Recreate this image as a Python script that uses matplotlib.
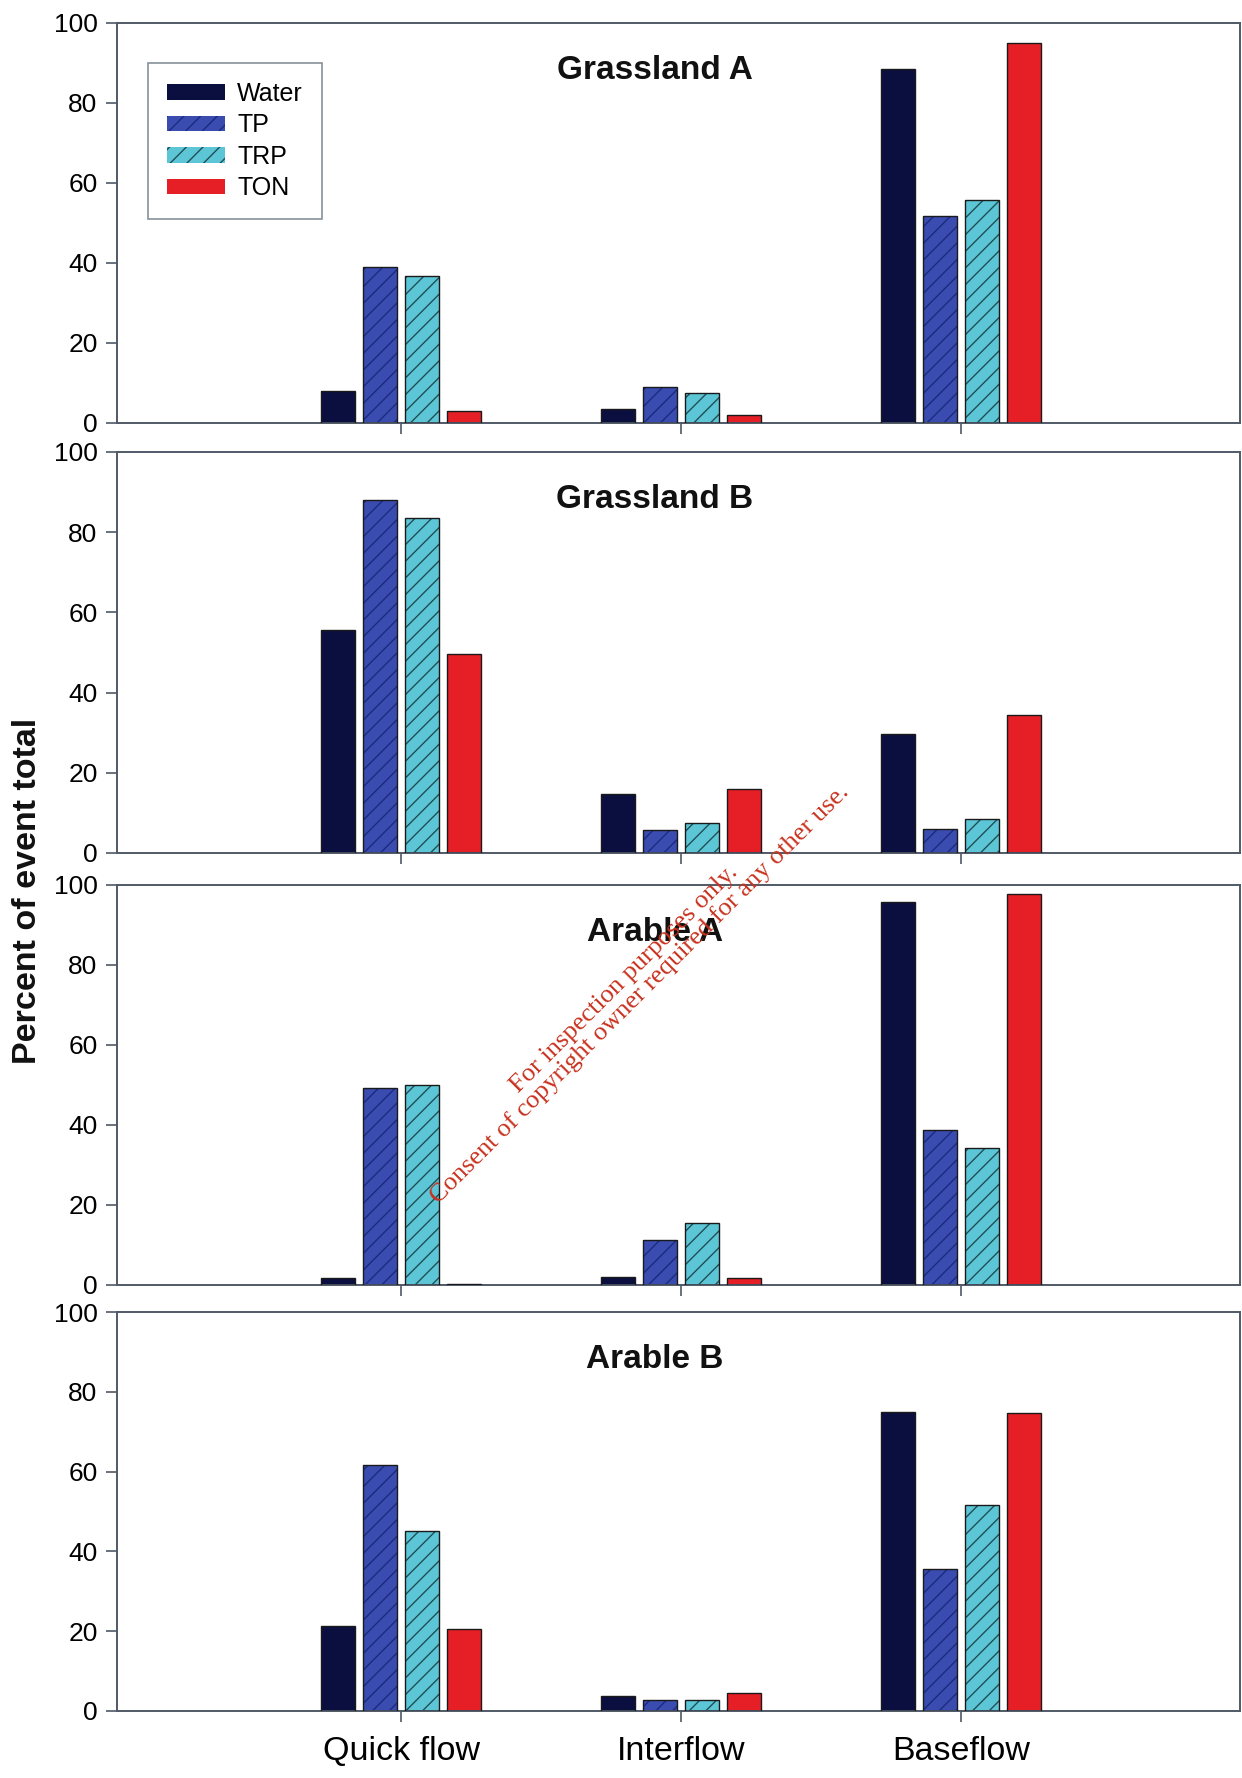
import numpy as np
import matplotlib
matplotlib.use("Agg")
import matplotlib.pyplot as plt

plt.rcParams['font.family'] = ['Liberation Sans', 'DejaVu Sans']
plt.rcParams['hatch.linewidth'] = 1.0

# ---- data ----
categories = ["Quick flow", "Interflow", "Baseflow"]
series = ["Water", "TP", "TRP", "TON"]
panels = ["Grassland A", "Grassland B", "Arable A", "Arable B"]

# values per panel, order: Quick flow, Interflow, Baseflow
grass_a_water = [8, 3.5, 88.4]
grass_a_tp = [39, 9, 51.8]
grass_a_trp = [36.8, 7.6, 55.8]
grass_a_ton = [3, 2, 94.9]

grass_b_water = [55.5, 14.7, 29.7]
grass_b_tp = [88.1, 5.7, 5.9]
grass_b_trp = [83.6, 7.6, 8.5]
grass_b_ton = [49.6, 15.9, 34.3]

arable_a_water = [1.7, 2, 95.8]
arable_a_tp = [49.3, 11.3, 38.8]
arable_a_trp = [49.9, 15.6, 34.3]
arable_a_ton = [0.3, 1.7, 97.7]

arable_b_water = [21.3, 3.7, 75]
arable_b_tp = [61.6, 2.8, 35.5]
arable_b_trp = [45.2, 2.8, 51.7]
arable_b_ton = [20.5, 4.5, 74.7]

panel_data = [
    [grass_a_water, grass_a_tp, grass_a_trp, grass_a_ton],
    [grass_b_water, grass_b_tp, grass_b_trp, grass_b_ton],
    [arable_a_water, arable_a_tp, arable_a_trp, arable_a_ton],
    [arable_b_water, arable_b_tp, arable_b_trp, arable_b_ton],
]

# ---- styles ----
fills = ['#0b0f3f', '#3a4cb0', '#5cc6d6', '#e61e26']
hatches = [None, '//', '//', None]
hatch_cols = ['#0b0f3f', '#1c2a80', '#1f4f55', '#e61e26']
spine_col = '#4f5a66'

W, H = 1242, 1778
fig = plt.figure(figsize=(W / 100, H / 100), dpi=100)

# axes boxes in pixels (top, bottom)
boxes = [(23, 423), (452, 853), (885, 1285), (1312, 1711)]
left_px, right_px = 117, 1240

x = np.arange(1, len(categories) + 1)
offsets = [-0.225, -0.075, 0.075, 0.225]
bw = 0.122

for i, (top, bot) in enumerate(boxes):
    ax = fig.add_axes([left_px / W, 1 - bot / H, (right_px - left_px) / W, (bot - top) / H])
    for j, name in enumerate(series):
        vals = panel_data[i][j]
        ax.bar(x + offsets[j], vals, bw, color=fills[j], hatch=hatches[j],
               edgecolor=hatch_cols[j], linewidth=0, label=name, zorder=2)
        ax.bar(x + offsets[j], vals, bw, fill=False, edgecolor='#1a1a1a',
               linewidth=1.0, zorder=3)
    ax.set_xlim(-0.015, 3.995)
    ax.set_ylim(0, 100)
    ax.set_yticks([0, 20, 40, 60, 80, 100])
    ax.set_xticks(x)
    if i == len(boxes) - 1:
        ax.set_xticklabels(categories, fontsize=24.5)
    else:
        ax.set_xticklabels([])
    ax.tick_params(axis='y', labelsize=19, length=8, width=1.2, color=spine_col, pad=6)
    ax.tick_params(axis='x', length=8, width=1.2, color=spine_col, pad=10)
    for s in ax.spines.values():
        s.set_color(spine_col)
        s.set_linewidth(1.4)
    ax.text(0.479, 0.882, panels[i], transform=ax.transAxes, ha='center', va='center',
            fontsize=24, fontweight='bold', color='#111111')
    if i == 0:
        leg = ax.legend(loc='upper left', bbox_to_anchor=(0.028, 0.90), fontsize=18,
                        frameon=True, fancybox=False, edgecolor='#6a7580',
                        handlelength=2.3, handleheight=0.6, labelspacing=0.3,
                        borderpad=0.75, handletextpad=0.5, borderaxespad=0)
        leg.get_frame().set_linewidth(1.2)

fig.text(0.022, 0.499, "Percent of event total", rotation=90, ha='center', va='center',
         fontsize=24.5, fontweight='bold', color='#111111')

# watermark
fig.text(0.509, 0.445,
         "For inspection purposes only.\nConsent of copyright owner required for any other use.",
         rotation=45, ha='center', va='center', multialignment='center',
         fontsize=19, color='#c8321e', family='Liberation Serif', linespacing=1.0,
         rotation_mode='anchor')

fig.savefig("out.png", dpi=100)
